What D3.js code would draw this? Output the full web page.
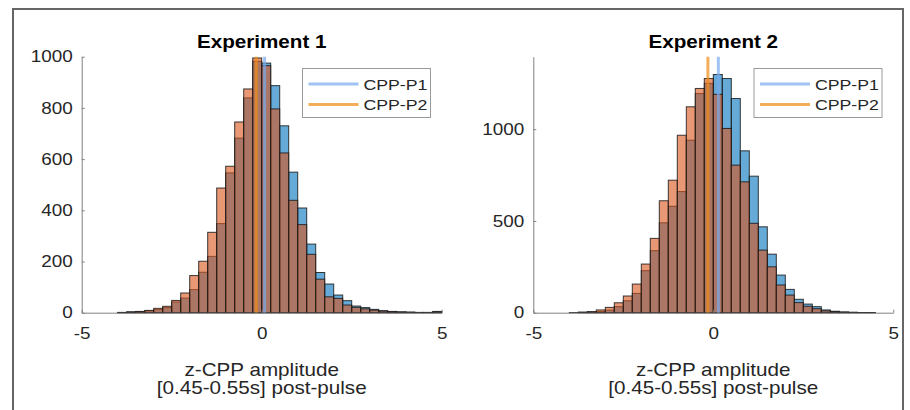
<!DOCTYPE html>
<html>
<head>
<meta charset="utf-8">
<script src="https://cdn.jsdelivr.net/npm/d3@7"></script>
<style>
  html, body { margin: 0; padding: 0; background: #fff; }
  svg { display: block; }
  text { font-family: "Liberation Sans", Arial, Helvetica, sans-serif; }
</style>
</head>
<body>
<svg id="chart" width="910" height="410"></svg>
<script>
// Histogram bin edges (z-CPP amplitude), 0.25 wide
const binEdges = [-5, -4.75, -4.5, -4.25, -4, -3.75, -3.5, -3.25, -3, -2.75,
  -2.5, -2.25, -2, -1.75, -1.5, -1.25, -1, -0.75, -0.5, -0.25,
  0, 0.25, 0.5, 0.75, 1, 1.25, 1.5, 1.75, 2, 2.25,
  2.5, 2.75, 3, 3.25, 3.5, 3.75, 4, 4.25, 4.5, 4.75, 5];

// Counts per bin, Experiment 1
const exp1P1 = [0, 0, 0, 0, 1, 3, 4, 7, 12, 20,
  42, 57, 90, 158, 220, 348, 546, 682, 839, 982,
  975, 887, 730, 549, 409, 268, 157, 112, 69, 47,
  26, 20, 13, 8, 5, 3, 2, 1, 1, 5];
const exp1P2 = [0, 0, 0, 0, 1, 3, 5, 9, 17, 25,
  48, 77, 145, 201, 314, 487, 572, 745, 874, 995,
  965, 796, 624, 439, 344, 228, 131, 62, 56, 30,
  21, 15, 10, 6, 4, 3, 2, 1, 1, 3];

// Counts per bin, Experiment 2
const exp2P1 = [0, 0, 0, 0, 0, 2, 3, 6, 14, 33,
  65, 105, 229, 338, 490, 580, 660, 940, 1194, 1250,
  1298, 1276, 1167, 882, 744, 468, 319, 205, 127, 73,
  47, 33, 15, 8, 4, 2, 1, 1, 0, 0];
const exp2P2 = [0, 0, 0, 0, 1, 3, 6, 15, 29, 54,
  91, 156, 265, 405, 610, 722, 967, 1122, 1222, 1276,
  1190, 1004, 804, 713, 487, 341, 250, 151, 96, 55,
  35, 22, 10, 6, 3, 2, 1, 1, 0, 0];

// Mean amplitude of each pulse [P1, P2]
const exp1Means = [0.08, -0.15];
const exp2Means = [0.14, -0.15];

const seriesNames = ["CPP-P1", "CPP-P2"];
const panelTitles = ["Experiment 1", "Experiment 2"];
const xTicks = [-5, 0, 5];
const exp1YTicks = [0, 200, 400, 600, 800, 1000];
const exp2YTicks = [0, 500, 1000];
const xLabelLines = ["z-CPP amplitude", "[0.45-0.55s] post-pulse"];

// ---- drawing ----
const SX = 1.18;                 // horizontal text stretch of the figure
const svg = d3.select("#chart");

svg.append("rect")
  .attr("x", 13).attr("y", 9).attr("width", 890).attr("height", 420)
  .attr("fill", "none").attr("stroke", "#666").attr("stroke-width", 2);

const plotW = 360, yTop = 56.7, yBase = 312.7;
const barFill = ["rgb(0,114,189)", "rgb(217,83,25)"];
const lineColor = ["rgb(120,170,240)", "rgb(240,140,20)"];
const axisColor = "#808080";
const textColor = "#262626";
const plainNumber = d => String(d);   // hyphen-minus, as MATLAB prints it

const panels = [
  { title: panelTitles[0], series: [exp1P1, exp1P2], means: exp1Means,
    yTicks: exp1YTicks, yMax: 1000, x0: 81.7, legendX: 302.5 },
  { title: panelTitles[1], series: [exp2P1, exp2P2], means: exp2Means,
    yTicks: exp2YTicks, yMax: 1395, x0: 533.3, legendX: 754 }
];

function addText(g, x, y, str, size, anchor, weight, fill) {
  return g.append("text")
    .attr("transform", `translate(${x},${y}) scale(${SX},1)`)
    .attr("text-anchor", anchor)
    .style("font-size", size + "px")
    .style("font-weight", weight)
    .attr("fill", fill)
    .text(str);
}

panels.forEach(p => {
  const g = svg.append("g");
  const xs = d3.scaleLinear().domain([binEdges[0], binEdges[binEdges.length - 1]])
    .range([p.x0, p.x0 + plotW]);
  const ys = d3.scaleLinear().domain([0, p.yMax]).range([yBase, yTop]);

  // histograms, P1 underneath, P2 on top
  p.series.forEach((counts, s) => {
    const bins = counts.map((c, k) => ({ x0: binEdges[k], x1: binEdges[k + 1], c }))
      .filter(d => d.c > 0);
    g.append("g").selectAll("rect").data(bins).join("rect")
      .attr("x", d => xs(d.x0))
      .attr("width", d => xs(d.x1) - xs(d.x0))
      .attr("y", d => ys(d.c))
      .attr("height", d => ys(0) - ys(d.c))
      .attr("fill", barFill[s]).attr("fill-opacity", 0.6)
      .attr("stroke", "#1a1a1a").attr("stroke-opacity", 0.85).attr("stroke-width", 1);
  });

  // mean lines
  p.means.forEach((m, s) => {
    g.append("line")
      .attr("x1", xs(m)).attr("x2", xs(m))
      .attr("y1", ys(0)).attr("y2", ys(p.yMax))
      .attr("stroke", lineColor[s]).attr("stroke-width", 3).attr("stroke-opacity", 0.7);
  });

  // axes
  const xAxis = g.append("g").attr("transform", `translate(0,${yBase})`)
    .call(d3.axisBottom(xs).tickValues(xTicks).tickFormat(plainNumber)
      .tickSizeInner(-3).tickSizeOuter(0).tickPadding(15));
  const yAxis = g.append("g").attr("transform", `translate(${p.x0},0)`)
    .call(d3.axisLeft(ys).tickValues(p.yTicks).tickFormat(plainNumber)
      .tickSizeInner(-3).tickSizeOuter(0).tickPadding(9));

  [xAxis, yAxis].forEach(a => {
    a.select(".domain").attr("stroke", axisColor).attr("stroke-width", 1);
    a.selectAll(".tick line").attr("stroke", axisColor);
    a.selectAll(".tick text")
      .style("font-size", "16px")
      .style("font-family", "'Liberation Sans', Arial, Helvetica, sans-serif")
      .attr("fill", textColor)
      .attr("transform", `scale(${SX},1)`);
  });
  yAxis.selectAll(".tick text").attr("x", -9 / SX);

  // title and axis label
  const cx = p.x0 + plotW / 2;
  addText(g, cx, 48, p.title, 17.5, "middle", "bold", "#000");
  addText(g, cx, 376, xLabelLines[0], 17.5, "middle", "normal", textColor);
  addText(g, cx, 394, xLabelLines[1], 17.5, "middle", "normal", textColor);

  // legend
  const lg = g.append("g");
  lg.append("rect")
    .attr("x", p.legendX).attr("y", 68.5).attr("width", 128).attr("height", 49)
    .attr("fill", "#fff").attr("stroke", "#9a9a9a").attr("stroke-width", 1);
  [84, 104.5].forEach((yc, s) => {
    lg.append("line")
      .attr("x1", p.legendX + 6).attr("x2", p.legendX + 56)
      .attr("y1", yc).attr("y2", yc)
      .attr("stroke", lineColor[s]).attr("stroke-width", 3).attr("stroke-opacity", 0.7);
    addText(lg, p.legendX + 61, yc + 5.5, seriesNames[s], 15, "start", "normal", textColor);
  });
});
</script>
</body>
</html>
